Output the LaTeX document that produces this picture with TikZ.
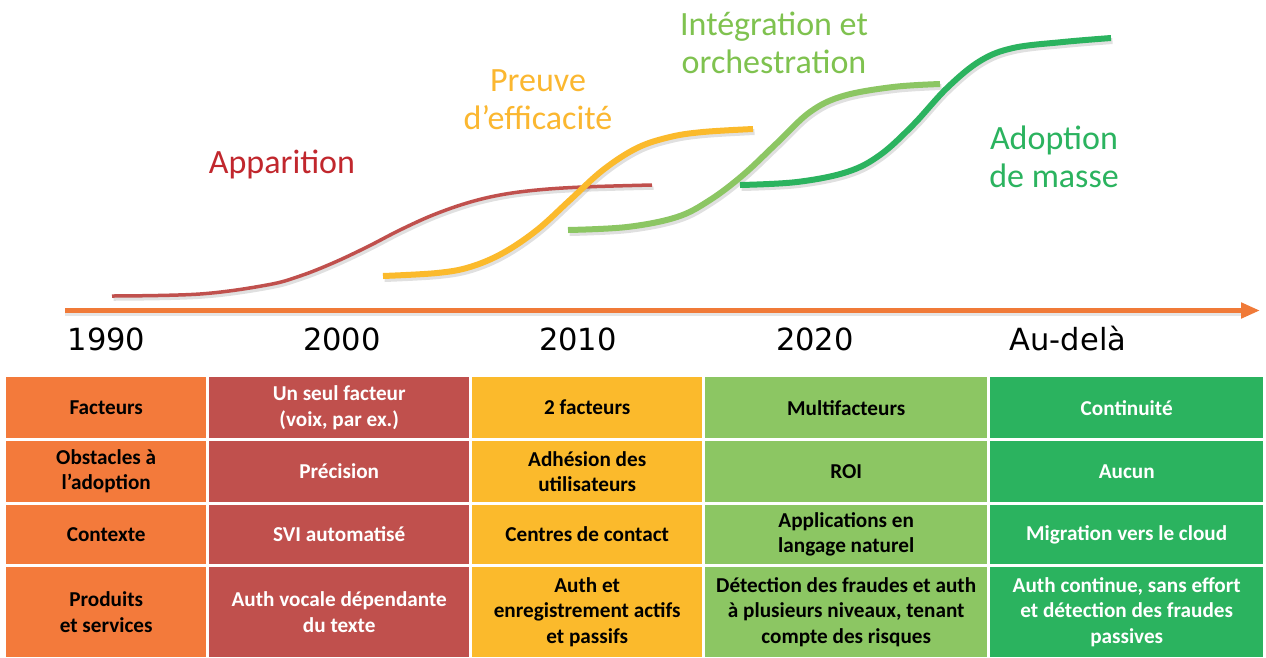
\documentclass[tikz,border=0pt]{standalone}
\usepackage{fontspec}
\setmainfont{Carlito}
\newfontfamily\yearfont{DejaVu Sans}
\usetikzlibrary{arrows.meta}
\definecolor{cOrange}{HTML}{F37A3B}
\definecolor{cRed}{HTML}{C0504D}
\definecolor{cYellow}{HTML}{FBBA2C}
\definecolor{cLight}{HTML}{8CC663}
\definecolor{cGreen}{HTML}{2BB35F}
\definecolor{tRed}{HTML}{C1272D}
\definecolor{tYellow}{HTML}{FBB730}
\definecolor{tLight}{HTML}{7FC24F}
\definecolor{tGreen}{HTML}{2BB35F}
\definecolor{cAxis}{HTML}{F07A38}
\begin{document}
\begin{tikzpicture}[x=1pt,y=-1pt,
  cell/.style={inner xsep=0pt, inner ysep=0pt, align=center, anchor=north west,
    font=\fontsize{21.2}{25.5}\selectfont\bfseries},
  k1/.style={cell, fill=cOrange, text=black, minimum width=200pt},
  k2/.style={cell, fill=cRed, text=white, minimum width=260pt},
  k3/.style={cell, fill=cYellow, text=black, minimum width=230pt},
  k4/.style={cell, fill=cLight, text=black, minimum width=282pt},
  k5/.style={cell, fill=cGreen, text=white, minimum width=273pt},
  rA/.style={minimum height=61pt},
  rB/.style={minimum height=60.5pt},
  rC/.style={minimum height=59.5pt},
  rD/.style={minimum height=90pt},
  lbl/.style={inner sep=0pt, align=center, font=\fontsize{34}{38}\selectfont},
  yr/.style={inner sep=0pt, anchor=base, font=\yearfont\fontsize{30.5}{36}\selectfont},
  curve/.style={line width=#1, line cap=butt},
  shadow/.style={line width=#1, draw=black, opacity=0.12}
]
\useasboundingbox (0,0) rectangle (1266,657);
\fill[white] (0,0) rectangle (1266,657);

% axis
\coordinate (axs) at (65,310.5);
\coordinate (axe) at (1260,310.5);
\draw[line width=5.5pt, draw=black, opacity=0.1] ([yshift=-3pt]axs) -- ([yshift=-3pt,xshift=-18pt]axe);
\draw[line width=5.5pt, draw=cAxis, -{Triangle[length=19pt,width=15pt]}] (axs) -- (axe);

% years
\node[yr] (y1990) at (106.5,350) {1990};
\node[yr] (y2000) at (342,350) {2000};
\node[yr] (y2010) at (578,350) {2010};
\node[yr] (y2020) at (815,350) {2020};
\node[yr] (yau) at (1068,350) {Au-delà};

% curves shadows
\begin{scope}[shift={(1.5,3)}]
\draw[shadow=3.5pt] plot[smooth, tension=0.6] coordinates {(112,296) (200,294) (267,285) (300,276) (333,263) (367,247) (400,230) (433,215) (467,203) (500,195) (537,190) (583,187) (652,185)};
\draw[shadow=6pt] plot[smooth, tension=0.6] coordinates {(383,276) (437,273) (470,267) (503,253) (537,230) (570,200) (603,170) (637,148) (670,137) (703,132) (753,129)};
\draw[shadow=6pt] plot[smooth, tension=0.6] coordinates {(568,230) (627,227) (677,217) (710,200) (743,175) (777,143) (810,112) (843,96) (893,87) (940,84)};
\draw[shadow=6pt] plot[smooth, tension=0.6] coordinates {(740,185) (797,182) (847,172) (880,155) (913,125) (947,88) (980,61) (1013,48) (1063,42) (1111,38)};
\end{scope}

% curves
\draw[curve=3.5pt, draw=cRed] plot[smooth, tension=0.6] coordinates {(112,296) (200,294) (267,285) (300,276) (333,263) (367,247) (400,230) (433,215) (467,203) (500,195) (537,190) (583,187) (652,185)};
\draw[curve=6pt, draw=cYellow] plot[smooth, tension=0.6] coordinates {(383,276) (437,273) (470,267) (503,253) (537,230) (570,200) (603,170) (637,148) (670,137) (703,132) (753,129)};
\draw[curve=6pt, draw=cLight] plot[smooth, tension=0.6] coordinates {(568,230) (627,227) (677,217) (710,200) (743,175) (777,143) (810,112) (843,96) (893,87) (940,84)};
\draw[curve=6pt, draw=cGreen] plot[smooth, tension=0.6] coordinates {(740,185) (797,182) (847,172) (880,155) (913,125) (947,88) (980,61) (1013,48) (1063,42) (1111,38)};

% phase labels (base anchor = baseline of last line)
\node[lbl, text=tRed, anchor=base] (lapp) at (282,173) {Apparition};
\node[lbl, text=tYellow, anchor=base] (lpre) at (538,129) {Preuve\\d’efficacité};
\node[lbl, text=tLight, anchor=base] (lint) at (774,73) {Intégration et\\orchestration};
\node[lbl, text=tGreen, anchor=base] (lado) at (1054,187) {Adoption\\de masse};

% table
\node[k1,rA] (a1) at (6,377) {Facteurs};
\node[k2,rA] (a2) at (209,377) {Un seul facteur\\(voix, par ex.)};
\node[k3,rA] (a3) at (472,377) {2 facteurs};
\node[k4,rA] (a4) at (705,377) {Multifacteurs};
\node[k5,rA] (a5) at (990,377) {Continuité};

\node[k1,rB] (b1) at (6,441) {Obstacles à\\l’adoption};
\node[k2,rB] (b2) at (209,441) {Précision};
\node[k3,rB] (b3) at (472,441) {Adhésion des\\utilisateurs};
\node[k4,rB] (b4) at (705,441) {ROI};
\node[k5,rB] (b5) at (990,441) {Aucun};

\node[k1,rC] (c1) at (6,504.5) {Contexte};
\node[k2,rC] (c2) at (209,504.5) {SVI automatisé};
\node[k3,rC] (c3) at (472,504.5) {Centres de contact};
\node[k4,rC] (c4) at (705,504.5) {Applications en\\langage naturel};
\node[k5,rC] (c5) at (990,504.5) {Migration vers le cloud};

\node[k1,rD] (d1) at (6,567) {Produits\\et services};
\node[k2,rD] (d2) at (209,567) {Auth vocale dépendante\\du texte};
\node[k3,rD] (d3) at (472,567) {Auth et\\enregistrement actifs\\et passifs};
\node[k4,rD] (d4) at (705,567) {Détection des fraudes et auth\\à plusieurs niveaux, tenant\\compte des risques};
\node[k5,rD] (d5) at (990,567) {Auth continue, sans effort\\et détection des fraudes\\passives};
\end{tikzpicture}
\end{document}
